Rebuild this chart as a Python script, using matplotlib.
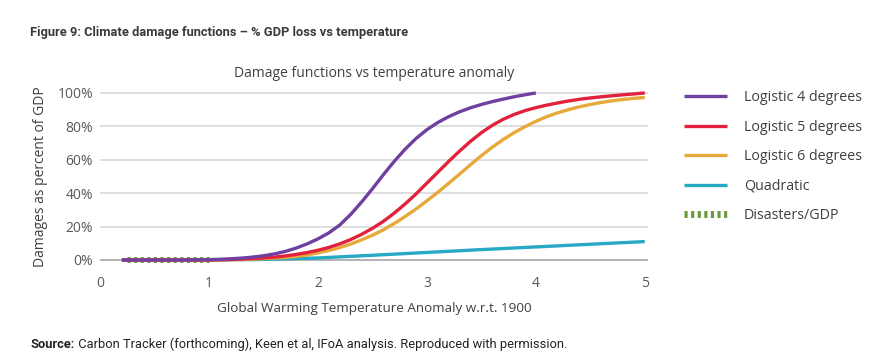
import matplotlib.pyplot as plt
import numpy as np

# temperature anomaly (deg C) and damages (% of GDP)
t4 = [0.2, 0.3, 0.4, 0.5, 0.6, 0.7, 0.8, 0.9, 1.0, 1.1, 1.2, 1.3, 1.4, 1.5, 1.6,
      1.7, 1.8, 1.9, 2.0, 2.1, 2.2, 2.3, 2.4, 2.5, 2.6, 2.7, 2.8, 2.9, 3.0, 3.1,
      3.2, 3.3, 3.4, 3.5, 3.6, 3.7, 3.8, 3.9, 4.0]
logistic4 = [0, 0, 0, 0, 0, 0, 0, 0.1, 0.2, 0.4, 0.7, 1.1, 1.7, 2.5, 3.6,
             5.1, 7.1, 9.6, 12.6, 16.2, 20.9, 27.2, 34.6, 42.6, 51, 59, 66.3, 72.7, 78, 82.3,
             85.8, 88.7, 91.1, 93.1, 94.8, 96.3, 97.7, 98.9, 100]

t56 = [0.2, 0.3, 0.4, 0.5, 0.6, 0.7, 0.8, 0.9, 1.0, 1.1, 1.2, 1.3, 1.4, 1.5, 1.6,
       1.7, 1.8, 1.9, 2.0, 2.1, 2.2, 2.3, 2.4, 2.5, 2.6, 2.7, 2.8, 2.9, 3.0, 3.1,
       3.2, 3.3, 3.4, 3.5, 3.6, 3.7, 3.8, 3.9, 4.0, 4.1, 4.2, 4.3, 4.4, 4.5, 4.6,
       4.7, 4.8, 4.9, 5.0]
logistic5 = [0, 0, 0, 0, 0, 0, 0, 0, 0, 0.1, 0.3, 0.5, 0.8, 1.2, 1.7,
             2.4, 3.3, 4.4, 5.8, 7.5, 9.6, 12.2, 15.3, 18.9, 23.1, 28, 33.5, 39.5, 46, 52.5,
             59, 65.2, 71, 76.2, 80.6, 84.2, 87.1, 89.4, 91.2, 92.7, 94, 95.2, 96.2, 97, 97.7,
             98.3, 98.9, 99.4, 100]
logistic6 = [0, 0, 0, 0, 0, 0, 0, 0, 0, 0.05, 0.15, 0.3, 0.5, 0.8, 1.1,
             1.5, 2.1, 3, 4.2, 5.7, 7.4, 9.5, 12, 14.8, 18, 21.8, 26, 30.5, 35.4, 40.5,
             45.9, 51.4, 57, 62.4, 67.5, 72.1, 76.2, 79.8, 83, 85.8, 88.1, 90, 91.7, 93.1, 94.3,
             95.3, 96.1, 96.8, 97.3]

tq = [0.2, 0.5, 1.0, 1.5, 2.0, 2.5, 3.0, 3.5, 4.0, 4.5, 5.0]
quadratic = [0, 0, 0, 0.3, 1.2, 2.8, 4.5, 6.2, 7.8, 9.4, 11]

td = [0.25, 1.0]
disasters = [0, 0]

xticks = [0, 1, 2, 3, 4, 5]
yticks = [0, 20, 40, 60, 80, 100]
labels = ['Logistic 4 degrees', 'Logistic 5 degrees', 'Logistic 6 degrees', 'Quadratic', 'Disasters/GDP']

grey = '#595959'
dark = '#404040'
plt.rcParams['font.family'] = ['Open Sans', 'DejaVu Sans']

fig = plt.figure(figsize=(8.93, 3.59), dpi=100)
ax = fig.add_axes([0.112, 0.2666, 0.6137, 0.4838])

for y in yticks:
    ax.axhline(y / 100, color='#a6a6a6' if y == 0 else '#d9d9d9', lw=1.2, zorder=0)

frac = lambda v: np.array(v) / 100
hd, = ax.plot(td, disasters, color='#6a9a3c', lw=5, linestyle=(0, (0.45, 0.5)),
              solid_capstyle='butt', dash_capstyle='butt', zorder=2)
hq, = ax.plot(tq, frac(quadratic), color='#27a9c6', lw=2.4, zorder=3)
h6, = ax.plot(t56, frac(logistic6), color='#e6a93a', lw=2.4, zorder=4)
h5, = ax.plot(t56, frac(logistic5), color='#e2223c', lw=2.4, zorder=5)
h4, = ax.plot(t4, frac(logistic4), color='#7040a0', lw=2.4, zorder=6)
for h in (hq, h6, h5, h4):
    h.set_clip_on(False)
    h.set_solid_capstyle('butt')

ax.set_xlim(0, 5.03)
ax.set_ylim(-0.02, 1.02)
ax.set_xticks(xticks)
ax.set_yticks(np.array(yticks) / 100)
ax.set_yticklabels([f'{y}%' for y in yticks])
ax.tick_params(length=0, labelsize=10, labelcolor=grey)
ax.tick_params(axis='y', pad=5)
ax.tick_params(axis='x', pad=9)
for s in ax.spines.values():
    s.set_visible(False)

ax.set_title('Damage functions vs temperature anomaly', fontsize=10, color=dark, pad=9)
ax.set_xlabel('Global Warming Temperature Anomaly w.r.t. 1900', fontsize=9.7, color=dark, labelpad=8)
ax.set_ylabel('Damages as percent of GDP', fontsize=10, color=dark, labelpad=7)

fig.legend([h4, h5, h6, hq, hd], labels,
           loc='upper left', bbox_to_anchor=(0.752, 0.785), frameon=False, fontsize=10.3,
           labelcolor=dark, handlelength=2.95, handletextpad=1.2, labelspacing=1.02)

roboto = ['Roboto', 'DejaVu Sans']
fig.text(0.034, 0.91, 'Figure 9: Climate damage functions \u2013 % GDP loss vs temperature',
         fontsize=9.3, fontweight='bold', color='#3a3a3a', va='center', family=roboto)
src = fig.text(0.034, 0.03, 'Source:', fontsize=9.3, fontweight='bold', color='#222222',
               va='baseline', family=roboto)
fig.canvas.draw()
x_end = src.get_window_extent().x1 / fig.bbox.width
fig.text(x_end, 0.03, ' Carbon Tracker (forthcoming), Keen et al, IFoA analysis. Reproduced with permission.',
         va='baseline', fontsize=9.3, color='#222222', family=roboto)

fig.savefig('out.png', dpi=100)
